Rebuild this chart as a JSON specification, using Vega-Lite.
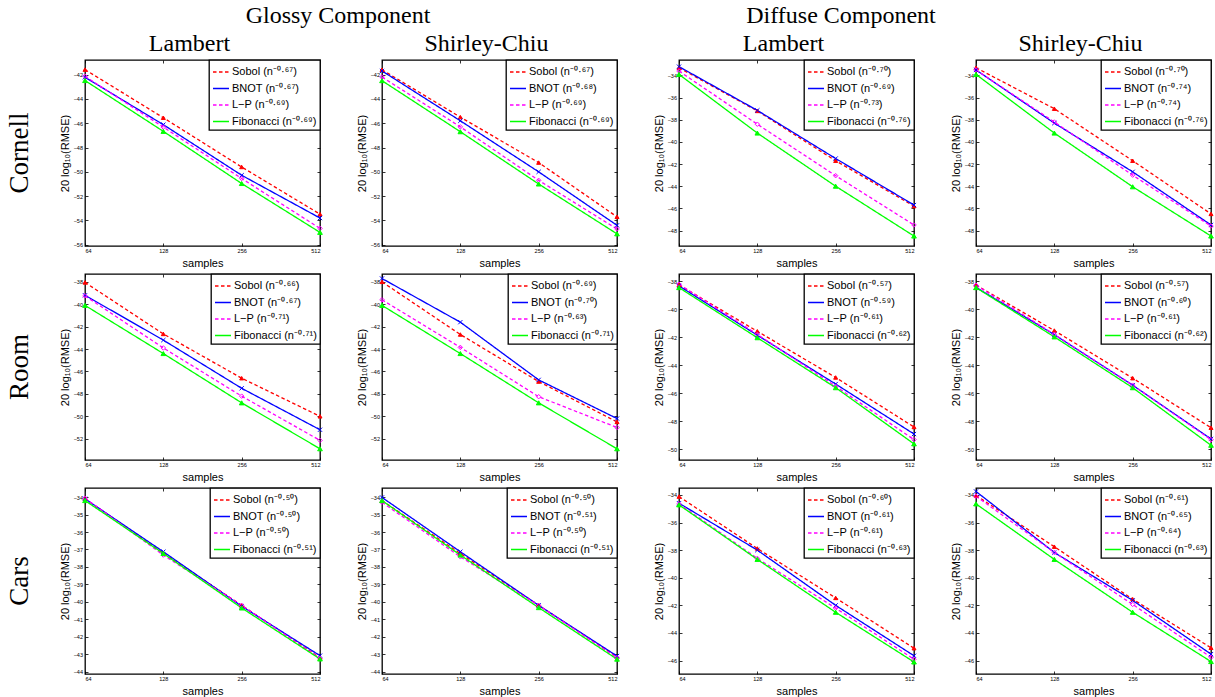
{
  "$schema": "https://vega.github.io/schema/vega-lite/v6.json",
  "background": "white",
  "padding": {"left": 5, "top": 2, "right": 0, "bottom": 0},
  "datasets": {
    "p1": [
      {"series":"Sobol","label":"Sobol (n⁻⁰·⁶⁷)","order":1,"n":64,"v":-41.59},{"series":"Sobol","label":"Sobol (n⁻⁰·⁶⁷)","order":1,"n":128,"v":-45.55},{"series":"Sobol","label":"Sobol (n⁻⁰·⁶⁷)","order":1,"n":256,"v":-49.6},{"series":"Sobol","label":"Sobol (n⁻⁰·⁶⁷)","order":1,"n":512,"v":-53.48},
      {"series":"BNOT","label":"BNOT (n⁻⁰·⁶⁷)","order":2,"n":64,"v":-42.22},{"series":"BNOT","label":"BNOT (n⁻⁰·⁶⁷)","order":2,"n":128,"v":-46.12},{"series":"BNOT","label":"BNOT (n⁻⁰·⁶⁷)","order":2,"n":256,"v":-50.28},{"series":"BNOT","label":"BNOT (n⁻⁰·⁶⁷)","order":2,"n":512,"v":-53.8},
      {"series":"L-P","label":"L−P (n⁻⁰·⁶⁹)","order":3,"n":64,"v":-42.14},{"series":"L-P","label":"L−P (n⁻⁰·⁶⁹)","order":3,"n":128,"v":-46.32},{"series":"L-P","label":"L−P (n⁻⁰·⁶⁹)","order":3,"n":256,"v":-50.55},{"series":"L-P","label":"L−P (n⁻⁰·⁶⁹)","order":3,"n":512,"v":-54.65},
      {"series":"Fibonacci","label":"Fibonacci (n⁻⁰·⁶⁹)","order":4,"n":64,"v":-42.49},{"series":"Fibonacci","label":"Fibonacci (n⁻⁰·⁶⁹)","order":4,"n":128,"v":-46.67},{"series":"Fibonacci","label":"Fibonacci (n⁻⁰·⁶⁹)","order":4,"n":256,"v":-50.96},{"series":"Fibonacci","label":"Fibonacci (n⁻⁰·⁶⁹)","order":4,"n":512,"v":-54.98}
    ],
    "p2": [
      {"series":"Sobol","label":"Sobol (n⁻⁰·⁶⁷)","order":1,"n":64,"v":-41.6},{"series":"Sobol","label":"Sobol (n⁻⁰·⁶⁷)","order":1,"n":128,"v":-45.5},{"series":"Sobol","label":"Sobol (n⁻⁰·⁶⁷)","order":1,"n":256,"v":-49.24},{"series":"Sobol","label":"Sobol (n⁻⁰·⁶⁷)","order":1,"n":512,"v":-53.7},
      {"series":"BNOT","label":"BNOT (n⁻⁰·⁶⁸)","order":2,"n":64,"v":-41.7},{"series":"BNOT","label":"BNOT (n⁻⁰·⁶⁸)","order":2,"n":128,"v":-45.8},{"series":"BNOT","label":"BNOT (n⁻⁰·⁶⁸)","order":2,"n":256,"v":-50.0},{"series":"BNOT","label":"BNOT (n⁻⁰·⁶⁸)","order":2,"n":512,"v":-54.4},
      {"series":"L-P","label":"L−P (n⁻⁰·⁶⁹)","order":3,"n":64,"v":-42.2},{"series":"L-P","label":"L−P (n⁻⁰·⁶⁹)","order":3,"n":128,"v":-46.3},{"series":"L-P","label":"L−P (n⁻⁰·⁶⁹)","order":3,"n":256,"v":-50.7},{"series":"L-P","label":"L−P (n⁻⁰·⁶⁹)","order":3,"n":512,"v":-54.7},
      {"series":"Fibonacci","label":"Fibonacci (n⁻⁰·⁶⁹)","order":4,"n":64,"v":-42.5},{"series":"Fibonacci","label":"Fibonacci (n⁻⁰·⁶⁹)","order":4,"n":128,"v":-46.7},{"series":"Fibonacci","label":"Fibonacci (n⁻⁰·⁶⁹)","order":4,"n":256,"v":-51.0},{"series":"Fibonacci","label":"Fibonacci (n⁻⁰·⁶⁹)","order":4,"n":512,"v":-55.1}
    ],
    "p3": [
      {"series":"Sobol","label":"Sobol (n⁻⁰·⁷⁰)","order":1,"n":64,"v":-33.3},{"series":"Sobol","label":"Sobol (n⁻⁰·⁷⁰)","order":1,"n":128,"v":-37.2},{"series":"Sobol","label":"Sobol (n⁻⁰·⁷⁰)","order":1,"n":256,"v":-41.7},{"series":"Sobol","label":"Sobol (n⁻⁰·⁷⁰)","order":1,"n":512,"v":-45.8},
      {"series":"BNOT","label":"BNOT (n⁻⁰·⁶⁹)","order":2,"n":64,"v":-33.2},{"series":"BNOT","label":"BNOT (n⁻⁰·⁶⁹)","order":2,"n":128,"v":-37.15},{"series":"BNOT","label":"BNOT (n⁻⁰·⁶⁹)","order":2,"n":256,"v":-41.5},{"series":"BNOT","label":"BNOT (n⁻⁰·⁶⁹)","order":2,"n":512,"v":-45.7},
      {"series":"L-P","label":"L−P (n⁻⁰·⁷³)","order":3,"n":64,"v":-33.6},{"series":"L-P","label":"L−P (n⁻⁰·⁷³)","order":3,"n":128,"v":-38.4},{"series":"L-P","label":"L−P (n⁻⁰·⁷³)","order":3,"n":256,"v":-43.05},{"series":"L-P","label":"L−P (n⁻⁰·⁷³)","order":3,"n":512,"v":-47.5},
      {"series":"Fibonacci","label":"Fibonacci (n⁻⁰·⁷⁶)","order":4,"n":64,"v":-33.9},{"series":"Fibonacci","label":"Fibonacci (n⁻⁰·⁷⁶)","order":4,"n":128,"v":-39.2},{"series":"Fibonacci","label":"Fibonacci (n⁻⁰·⁷⁶)","order":4,"n":256,"v":-44.0},{"series":"Fibonacci","label":"Fibonacci (n⁻⁰·⁷⁶)","order":4,"n":512,"v":-48.5}
    ],
    "p4": [
      {"series":"Sobol","label":"Sobol (n⁻⁰·⁷⁰)","order":1,"n":64,"v":-33.3},{"series":"Sobol","label":"Sobol (n⁻⁰·⁷⁰)","order":1,"n":128,"v":-37.0},{"series":"Sobol","label":"Sobol (n⁻⁰·⁷⁰)","order":1,"n":256,"v":-41.7},{"series":"Sobol","label":"Sobol (n⁻⁰·⁷⁰)","order":1,"n":512,"v":-46.5},
      {"series":"BNOT","label":"BNOT (n⁻⁰·⁷⁴)","order":2,"n":64,"v":-33.5},{"series":"BNOT","label":"BNOT (n⁻⁰·⁷⁴)","order":2,"n":128,"v":-38.3},{"series":"BNOT","label":"BNOT (n⁻⁰·⁷⁴)","order":2,"n":256,"v":-42.7},{"series":"BNOT","label":"BNOT (n⁻⁰·⁷⁴)","order":2,"n":512,"v":-47.5},
      {"series":"L-P","label":"L−P (n⁻⁰·⁷⁴)","order":3,"n":64,"v":-33.5},{"series":"L-P","label":"L−P (n⁻⁰·⁷⁴)","order":3,"n":128,"v":-38.2},{"series":"L-P","label":"L−P (n⁻⁰·⁷⁴)","order":3,"n":256,"v":-43.0},{"series":"L-P","label":"L−P (n⁻⁰·⁷⁴)","order":3,"n":512,"v":-47.6},
      {"series":"Fibonacci","label":"Fibonacci (n⁻⁰·⁷⁶)","order":4,"n":64,"v":-33.9},{"series":"Fibonacci","label":"Fibonacci (n⁻⁰·⁷⁶)","order":4,"n":128,"v":-39.2},{"series":"Fibonacci","label":"Fibonacci (n⁻⁰·⁷⁶)","order":4,"n":256,"v":-44.05},{"series":"Fibonacci","label":"Fibonacci (n⁻⁰·⁷⁶)","order":4,"n":512,"v":-48.5}
    ],
    "p5": [
      {"series":"Sobol","label":"Sobol (n⁻⁰·⁶⁶)","order":1,"n":64,"v":-38.05},{"series":"Sobol","label":"Sobol (n⁻⁰·⁶⁶)","order":1,"n":128,"v":-42.65},{"series":"Sobol","label":"Sobol (n⁻⁰·⁶⁶)","order":1,"n":256,"v":-46.6},{"series":"Sobol","label":"Sobol (n⁻⁰·⁶⁶)","order":1,"n":512,"v":-50.0},
      {"series":"BNOT","label":"BNOT (n⁻⁰·⁶⁷)","order":2,"n":64,"v":-39.2},{"series":"BNOT","label":"BNOT (n⁻⁰·⁶⁷)","order":2,"n":128,"v":-43.2},{"series":"BNOT","label":"BNOT (n⁻⁰·⁶⁷)","order":2,"n":256,"v":-47.5},{"series":"BNOT","label":"BNOT (n⁻⁰·⁶⁷)","order":2,"n":512,"v":-51.2},
      {"series":"L-P","label":"L−P (n⁻⁰·⁷¹)","order":3,"n":64,"v":-39.25},{"series":"L-P","label":"L−P (n⁻⁰·⁷¹)","order":3,"n":128,"v":-43.9},{"series":"L-P","label":"L−P (n⁻⁰·⁷¹)","order":3,"n":256,"v":-48.2},{"series":"L-P","label":"L−P (n⁻⁰·⁷¹)","order":3,"n":512,"v":-52.15},
      {"series":"Fibonacci","label":"Fibonacci (n⁻⁰·⁷¹)","order":4,"n":64,"v":-40.1},{"series":"Fibonacci","label":"Fibonacci (n⁻⁰·⁷¹)","order":4,"n":128,"v":-44.4},{"series":"Fibonacci","label":"Fibonacci (n⁻⁰·⁷¹)","order":4,"n":256,"v":-48.8},{"series":"Fibonacci","label":"Fibonacci (n⁻⁰·⁷¹)","order":4,"n":512,"v":-52.9}
    ],
    "p6": [
      {"series":"Sobol","label":"Sobol (n⁻⁰·⁶⁹)","order":1,"n":64,"v":-38.0},{"series":"Sobol","label":"Sobol (n⁻⁰·⁶⁹)","order":1,"n":128,"v":-42.7},{"series":"Sobol","label":"Sobol (n⁻⁰·⁶⁹)","order":1,"n":256,"v":-46.9},{"series":"Sobol","label":"Sobol (n⁻⁰·⁶⁹)","order":1,"n":512,"v":-50.5},
      {"series":"BNOT","label":"BNOT (n⁻⁰·⁷⁰)","order":2,"n":64,"v":-37.7},{"series":"BNOT","label":"BNOT (n⁻⁰·⁷⁰)","order":2,"n":128,"v":-41.6},{"series":"BNOT","label":"BNOT (n⁻⁰·⁷⁰)","order":2,"n":256,"v":-46.75},{"series":"BNOT","label":"BNOT (n⁻⁰·⁷⁰)","order":2,"n":512,"v":-50.2},
      {"series":"L-P","label":"L−P (n⁻⁰·⁶³)","order":3,"n":64,"v":-39.6},{"series":"L-P","label":"L−P (n⁻⁰·⁶³)","order":3,"n":128,"v":-43.85},{"series":"L-P","label":"L−P (n⁻⁰·⁶³)","order":3,"n":256,"v":-48.25},{"series":"L-P","label":"L−P (n⁻⁰·⁶³)","order":3,"n":512,"v":-51.0},
      {"series":"Fibonacci","label":"Fibonacci (n⁻⁰·⁷¹)","order":4,"n":64,"v":-40.1},{"series":"Fibonacci","label":"Fibonacci (n⁻⁰·⁷¹)","order":4,"n":128,"v":-44.4},{"series":"Fibonacci","label":"Fibonacci (n⁻⁰·⁷¹)","order":4,"n":256,"v":-48.8},{"series":"Fibonacci","label":"Fibonacci (n⁻⁰·⁷¹)","order":4,"n":512,"v":-52.9}
    ],
    "p7": [
      {"series":"Sobol","label":"Sobol (n⁻⁰·⁵⁷)","order":1,"n":64,"v":-38.28},{"series":"Sobol","label":"Sobol (n⁻⁰·⁵⁷)","order":1,"n":128,"v":-41.58},{"series":"Sobol","label":"Sobol (n⁻⁰·⁵⁷)","order":1,"n":256,"v":-44.87},{"series":"Sobol","label":"Sobol (n⁻⁰·⁵⁷)","order":1,"n":512,"v":-48.4},
      {"series":"BNOT","label":"BNOT (n⁻⁰·⁵⁹)","order":2,"n":64,"v":-38.35},{"series":"BNOT","label":"BNOT (n⁻⁰·⁵⁹)","order":2,"n":128,"v":-41.86},{"series":"BNOT","label":"BNOT (n⁻⁰·⁵⁹)","order":2,"n":256,"v":-45.34},{"series":"BNOT","label":"BNOT (n⁻⁰·⁵⁹)","order":2,"n":512,"v":-48.9},
      {"series":"L-P","label":"L−P (n⁻⁰·⁶¹)","order":3,"n":64,"v":-38.23},{"series":"L-P","label":"L−P (n⁻⁰·⁶¹)","order":3,"n":128,"v":-41.8},{"series":"L-P","label":"L−P (n⁻⁰·⁶¹)","order":3,"n":256,"v":-45.5},{"series":"L-P","label":"L−P (n⁻⁰·⁶¹)","order":3,"n":512,"v":-49.3},
      {"series":"Fibonacci","label":"Fibonacci (n⁻⁰·⁶²)","order":4,"n":64,"v":-38.47},{"series":"Fibonacci","label":"Fibonacci (n⁻⁰·⁶²)","order":4,"n":128,"v":-42.04},{"series":"Fibonacci","label":"Fibonacci (n⁻⁰·⁶²)","order":4,"n":256,"v":-45.6},{"series":"Fibonacci","label":"Fibonacci (n⁻⁰·⁶²)","order":4,"n":512,"v":-49.6}
    ],
    "p8": [
      {"series":"Sobol","label":"Sobol (n⁻⁰·⁵⁷)","order":1,"n":64,"v":-38.28},{"series":"Sobol","label":"Sobol (n⁻⁰·⁵⁷)","order":1,"n":128,"v":-41.53},{"series":"Sobol","label":"Sobol (n⁻⁰·⁵⁷)","order":1,"n":256,"v":-44.92},{"series":"Sobol","label":"Sobol (n⁻⁰·⁵⁷)","order":1,"n":512,"v":-48.45},
      {"series":"BNOT","label":"BNOT (n⁻⁰·⁶⁰)","order":2,"n":64,"v":-38.45},{"series":"BNOT","label":"BNOT (n⁻⁰·⁶⁰)","order":2,"n":128,"v":-41.82},{"series":"BNOT","label":"BNOT (n⁻⁰·⁶⁰)","order":2,"n":256,"v":-45.42},{"series":"BNOT","label":"BNOT (n⁻⁰·⁶⁰)","order":2,"n":512,"v":-49.25},
      {"series":"L-P","label":"L−P (n⁻⁰·⁶¹)","order":3,"n":64,"v":-38.3},{"series":"L-P","label":"L−P (n⁻⁰·⁶¹)","order":3,"n":128,"v":-41.8},{"series":"L-P","label":"L−P (n⁻⁰·⁶¹)","order":3,"n":256,"v":-45.42},{"series":"L-P","label":"L−P (n⁻⁰·⁶¹)","order":3,"n":512,"v":-49.3},
      {"series":"Fibonacci","label":"Fibonacci (n⁻⁰·⁶²)","order":4,"n":64,"v":-38.47},{"series":"Fibonacci","label":"Fibonacci (n⁻⁰·⁶²)","order":4,"n":128,"v":-41.98},{"series":"Fibonacci","label":"Fibonacci (n⁻⁰·⁶²)","order":4,"n":256,"v":-45.6},{"series":"Fibonacci","label":"Fibonacci (n⁻⁰·⁶²)","order":4,"n":512,"v":-49.7}
    ],
    "p9": [
      {"series":"Sobol","label":"Sobol (n⁻⁰·⁵⁰)","order":1,"n":64,"v":-34.1},{"series":"Sobol","label":"Sobol (n⁻⁰·⁵⁰)","order":1,"n":128,"v":-37.2},{"series":"Sobol","label":"Sobol (n⁻⁰·⁵⁰)","order":1,"n":256,"v":-40.2},{"series":"Sobol","label":"Sobol (n⁻⁰·⁵⁰)","order":1,"n":512,"v":-43.2},
      {"series":"BNOT","label":"BNOT (n⁻⁰·⁵⁰)","order":2,"n":64,"v":-34.1},{"series":"BNOT","label":"BNOT (n⁻⁰·⁵⁰)","order":2,"n":128,"v":-37.13},{"series":"BNOT","label":"BNOT (n⁻⁰·⁵⁰)","order":2,"n":256,"v":-40.25},{"series":"BNOT","label":"BNOT (n⁻⁰·⁵⁰)","order":2,"n":512,"v":-43.08},
      {"series":"L-P","label":"L−P (n⁻⁰·⁵⁰)","order":3,"n":64,"v":-34.06},{"series":"L-P","label":"L−P (n⁻⁰·⁵⁰)","order":3,"n":128,"v":-37.32},{"series":"L-P","label":"L−P (n⁻⁰·⁵⁰)","order":3,"n":256,"v":-40.2},{"series":"L-P","label":"L−P (n⁻⁰·⁵⁰)","order":3,"n":512,"v":-43.23},
      {"series":"Fibonacci","label":"Fibonacci (n⁻⁰·⁵¹)","order":4,"n":64,"v":-34.2},{"series":"Fibonacci","label":"Fibonacci (n⁻⁰·⁵¹)","order":4,"n":128,"v":-37.23},{"series":"Fibonacci","label":"Fibonacci (n⁻⁰·⁵¹)","order":4,"n":256,"v":-40.35},{"series":"Fibonacci","label":"Fibonacci (n⁻⁰·⁵¹)","order":4,"n":512,"v":-43.27}
    ],
    "p10": [
      {"series":"Sobol","label":"Sobol (n⁻⁰·⁵⁰)","order":1,"n":64,"v":-34.2},{"series":"Sobol","label":"Sobol (n⁻⁰·⁵⁰)","order":1,"n":128,"v":-37.23},{"series":"Sobol","label":"Sobol (n⁻⁰·⁵⁰)","order":1,"n":256,"v":-40.2},{"series":"Sobol","label":"Sobol (n⁻⁰·⁵⁰)","order":1,"n":512,"v":-43.15},
      {"series":"BNOT","label":"BNOT (n⁻⁰·⁵¹)","order":2,"n":64,"v":-34.02},{"series":"BNOT","label":"BNOT (n⁻⁰·⁵¹)","order":2,"n":128,"v":-37.13},{"series":"BNOT","label":"BNOT (n⁻⁰·⁵¹)","order":2,"n":256,"v":-40.2},{"series":"BNOT","label":"BNOT (n⁻⁰·⁵¹)","order":2,"n":512,"v":-43.1},
      {"series":"L-P","label":"L−P (n⁻⁰·⁵⁰)","order":3,"n":64,"v":-34.3},{"series":"L-P","label":"L−P (n⁻⁰·⁵⁰)","order":3,"n":128,"v":-37.42},{"series":"L-P","label":"L−P (n⁻⁰·⁵⁰)","order":3,"n":256,"v":-40.2},{"series":"L-P","label":"L−P (n⁻⁰·⁵⁰)","order":3,"n":512,"v":-43.2},
      {"series":"Fibonacci","label":"Fibonacci (n⁻⁰·⁵¹)","order":4,"n":64,"v":-34.2},{"series":"Fibonacci","label":"Fibonacci (n⁻⁰·⁵¹)","order":4,"n":128,"v":-37.32},{"series":"Fibonacci","label":"Fibonacci (n⁻⁰·⁵¹)","order":4,"n":256,"v":-40.33},{"series":"Fibonacci","label":"Fibonacci (n⁻⁰·⁵¹)","order":4,"n":512,"v":-43.28}
    ],
    "p11": [
      {"series":"Sobol","label":"Sobol (n⁻⁰·⁶⁰)","order":1,"n":64,"v":-34.12},{"series":"Sobol","label":"Sobol (n⁻⁰·⁶⁰)","order":1,"n":128,"v":-37.88},{"series":"Sobol","label":"Sobol (n⁻⁰·⁶⁰)","order":1,"n":256,"v":-41.46},{"series":"Sobol","label":"Sobol (n⁻⁰·⁶⁰)","order":1,"n":512,"v":-45.1},
      {"series":"BNOT","label":"BNOT (n⁻⁰·⁶¹)","order":2,"n":64,"v":-34.6},{"series":"BNOT","label":"BNOT (n⁻⁰·⁶¹)","order":2,"n":128,"v":-38.0},{"series":"BNOT","label":"BNOT (n⁻⁰·⁶¹)","order":2,"n":256,"v":-42.0},{"series":"BNOT","label":"BNOT (n⁻⁰·⁶¹)","order":2,"n":512,"v":-45.65},
      {"series":"L-P","label":"L−P (n⁻⁰·⁶¹)","order":3,"n":64,"v":-34.65},{"series":"L-P","label":"L−P (n⁻⁰·⁶¹)","order":3,"n":128,"v":-38.6},{"series":"L-P","label":"L−P (n⁻⁰·⁶¹)","order":3,"n":256,"v":-42.2},{"series":"L-P","label":"L−P (n⁻⁰·⁶¹)","order":3,"n":512,"v":-45.9},
      {"series":"Fibonacci","label":"Fibonacci (n⁻⁰·⁶³)","order":4,"n":64,"v":-34.72},{"series":"Fibonacci","label":"Fibonacci (n⁻⁰·⁶³)","order":4,"n":128,"v":-38.67},{"series":"Fibonacci","label":"Fibonacci (n⁻⁰·⁶³)","order":4,"n":256,"v":-42.5},{"series":"Fibonacci","label":"Fibonacci (n⁻⁰·⁶³)","order":4,"n":512,"v":-46.1}
    ],
    "p12": [
      {"series":"Sobol","label":"Sobol (n⁻⁰·⁶¹)","order":1,"n":64,"v":-34.04},{"series":"Sobol","label":"Sobol (n⁻⁰·⁶¹)","order":1,"n":128,"v":-37.75},{"series":"Sobol","label":"Sobol (n⁻⁰·⁶¹)","order":1,"n":256,"v":-41.55},{"series":"Sobol","label":"Sobol (n⁻⁰·⁶¹)","order":1,"n":512,"v":-45.07},
      {"series":"BNOT","label":"BNOT (n⁻⁰·⁶⁵)","order":2,"n":64,"v":-33.75},{"series":"BNOT","label":"BNOT (n⁻⁰·⁶⁵)","order":2,"n":128,"v":-38.17},{"series":"BNOT","label":"BNOT (n⁻⁰·⁶⁵)","order":2,"n":256,"v":-41.64},{"series":"BNOT","label":"BNOT (n⁻⁰·⁶⁵)","order":2,"n":512,"v":-45.53},
      {"series":"L-P","label":"L−P (n⁻⁰·⁶⁴)","order":3,"n":64,"v":-34.1},{"series":"L-P","label":"L−P (n⁻⁰·⁶⁴)","order":3,"n":128,"v":-38.17},{"series":"L-P","label":"L−P (n⁻⁰·⁶⁴)","order":3,"n":256,"v":-41.93},{"series":"L-P","label":"L−P (n⁻⁰·⁶⁴)","order":3,"n":512,"v":-45.76},
      {"series":"Fibonacci","label":"Fibonacci (n⁻⁰·⁶³)","order":4,"n":64,"v":-34.65},{"series":"Fibonacci","label":"Fibonacci (n⁻⁰·⁶³)","order":4,"n":128,"v":-38.67},{"series":"Fibonacci","label":"Fibonacci (n⁻⁰·⁶³)","order":4,"n":256,"v":-42.5},{"series":"Fibonacci","label":"Fibonacci (n⁻⁰·⁶³)","order":4,"n":512,"v":-46.07}
    ]
  },
  "columns": 4,
  "bounds": "flush",
  "spacing": {"row": 28, "column": 62},
  "resolve": {"scale": {"color": "independent", "strokeDash": "independent"}},
  "concat": [
    {"width": 235, "height": 186, "data": {"name": "p1"},
     "title": {"text": "Cornell", "orient": "left", "anchor": "middle", "fontSize": 27, "offset": 25},
     "layer": [
      {"mark": {"type": "line", "strokeWidth": 1.3},
       "encoding": {
        "x": {"field": "n", "type": "quantitative", "scale": {"type": "log", "base": 2, "domain": [64, 512], "nice": false}, "axis": {"orient": "bottom", "values": [64, 128, 256, 512], "title": "samples"}},
        "y": {"field": "v", "type": "quantitative", "scale": {"domain": [-56.1, -40.8], "nice": false, "zero": false}, "axis": {"orient": "left", "values": [-56, -54, -52, -50, -48, -46, -44, -42], "title": "20 log₁₀(RMSE)"}},
        "color": {"field": "label", "type": "nominal", "sort": {"field": "order", "op": "min"}, "scale": {"range": ["#ff0000", "#0000ff", "#ff00ff", "#00ff00"]}, "legend": {"title": null}},
        "strokeDash": {"field": "label", "type": "nominal", "sort": {"field": "order", "op": "min"}, "scale": {"range": [[3.5, 2.5], [1, 0], [3.5, 2.5], [1, 0]]}, "legend": {"title": null}}}},
      {"mark": {"type": "point", "strokeWidth": 1, "opacity": 1},
       "encoding": {
        "x": {"field": "n", "type": "quantitative", "axis": {"orient": "top", "values": [64, 128, 256, 512], "labels": false, "title": "Lambert", "titleFont": "Liberation Serif", "titleFontSize": 24, "titlePadding": 4, "titleX": 104}},
        "y": {"field": "v", "type": "quantitative", "axis": {"orient": "right", "values": [-56, -54, -52, -50, -48, -46, -44, -42], "labels": false, "title": null}},
        "shape": {"field": "series", "type": "nominal", "sort": {"field": "order", "op": "min"}, "scale": {"range": ["triangle-up", "M-1,-1L1,1M-1,1L1,-1", "diamond", "triangle-up"]}, "legend": null},
        "stroke": {"field": "series", "type": "nominal", "sort": {"field": "order", "op": "min"}, "scale": {"range": ["#ff0000", "#0000ff", "#ff00ff", "#00ff00"]}, "legend": null},
        "fill": {"field": "series", "type": "nominal", "sort": {"field": "order", "op": "min"}, "scale": {"range": ["#ff0000", "transparent", "transparent", "#00ff00"]}, "legend": null},
        "size": {"field": "series", "type": "nominal", "sort": {"field": "order", "op": "min"}, "scale": {"range": [16, 22, 32, 16]}, "legend": null}}}
     ],
     "resolve": {"axis": {"x": "independent", "y": "independent"}}},
    {"width": 235, "height": 186, "data": {"name": "p2"},
     "title": {"text": "Glossy Component", "anchor": "start", "frame": "group", "align": "center", "dx": -44, "offset": 4},
     "layer": [
      {"mark": {"type": "line", "strokeWidth": 1.3},
       "encoding": {
        "x": {"field": "n", "type": "quantitative", "scale": {"type": "log", "base": 2, "domain": [64, 512], "nice": false}, "axis": {"orient": "bottom", "values": [64, 128, 256, 512], "title": "samples"}},
        "y": {"field": "v", "type": "quantitative", "scale": {"domain": [-56.1, -40.8], "nice": false, "zero": false}, "axis": {"orient": "left", "values": [-56, -54, -52, -50, -48, -46, -44, -42], "title": "20 log₁₀(RMSE)"}},
        "color": {"field": "label", "type": "nominal", "sort": {"field": "order", "op": "min"}, "scale": {"range": ["#ff0000", "#0000ff", "#ff00ff", "#00ff00"]}, "legend": {"title": null}},
        "strokeDash": {"field": "label", "type": "nominal", "sort": {"field": "order", "op": "min"}, "scale": {"range": [[3.5, 2.5], [1, 0], [3.5, 2.5], [1, 0]]}, "legend": {"title": null}}}},
      {"mark": {"type": "point", "strokeWidth": 1, "opacity": 1},
       "encoding": {
        "x": {"field": "n", "type": "quantitative", "axis": {"orient": "top", "values": [64, 128, 256, 512], "labels": false, "title": "Shirley-Chiu", "titleFont": "Liberation Serif", "titleFontSize": 24, "titlePadding": 4, "titleX": 104}},
        "y": {"field": "v", "type": "quantitative", "axis": {"orient": "right", "values": [-56, -54, -52, -50, -48, -46, -44, -42], "labels": false, "title": null}},
        "shape": {"field": "series", "type": "nominal", "sort": {"field": "order", "op": "min"}, "scale": {"range": ["triangle-up", "M-1,-1L1,1M-1,1L1,-1", "diamond", "triangle-up"]}, "legend": null},
        "stroke": {"field": "series", "type": "nominal", "sort": {"field": "order", "op": "min"}, "scale": {"range": ["#ff0000", "#0000ff", "#ff00ff", "#00ff00"]}, "legend": null},
        "fill": {"field": "series", "type": "nominal", "sort": {"field": "order", "op": "min"}, "scale": {"range": ["#ff0000", "transparent", "transparent", "#00ff00"]}, "legend": null},
        "size": {"field": "series", "type": "nominal", "sort": {"field": "order", "op": "min"}, "scale": {"range": [16, 22, 32, 16]}, "legend": null}}}
     ],
     "resolve": {"axis": {"x": "independent", "y": "independent"}}},
    {"width": 235, "height": 186, "data": {"name": "p3"},
     "title": {"text": "Diffuse Component", "anchor": "start", "frame": "group", "align": "center", "dx": 162, "offset": 4},
     "layer": [
      {"mark": {"type": "line", "strokeWidth": 1.3},
       "encoding": {
        "x": {"field": "n", "type": "quantitative", "scale": {"type": "log", "base": 2, "domain": [64, 512], "nice": false}, "axis": {"orient": "bottom", "values": [64, 128, 256, 512], "title": "samples"}},
        "y": {"field": "v", "type": "quantitative", "scale": {"domain": [-49.4, -32.6], "nice": false, "zero": false}, "axis": {"orient": "left", "values": [-48, -46, -44, -42, -40, -38, -36, -34], "title": "20 log₁₀(RMSE)"}},
        "color": {"field": "label", "type": "nominal", "sort": {"field": "order", "op": "min"}, "scale": {"range": ["#ff0000", "#0000ff", "#ff00ff", "#00ff00"]}, "legend": {"title": null}},
        "strokeDash": {"field": "label", "type": "nominal", "sort": {"field": "order", "op": "min"}, "scale": {"range": [[3.5, 2.5], [1, 0], [3.5, 2.5], [1, 0]]}, "legend": {"title": null}}}},
      {"mark": {"type": "point", "strokeWidth": 1, "opacity": 1},
       "encoding": {
        "x": {"field": "n", "type": "quantitative", "axis": {"orient": "top", "values": [64, 128, 256, 512], "labels": false, "title": "Lambert", "titleFont": "Liberation Serif", "titleFontSize": 24, "titlePadding": 4, "titleX": 104}},
        "y": {"field": "v", "type": "quantitative", "axis": {"orient": "right", "values": [-48, -46, -44, -42, -40, -38, -36, -34], "labels": false, "title": null}},
        "shape": {"field": "series", "type": "nominal", "sort": {"field": "order", "op": "min"}, "scale": {"range": ["triangle-up", "M-1,-1L1,1M-1,1L1,-1", "diamond", "triangle-up"]}, "legend": null},
        "stroke": {"field": "series", "type": "nominal", "sort": {"field": "order", "op": "min"}, "scale": {"range": ["#ff0000", "#0000ff", "#ff00ff", "#00ff00"]}, "legend": null},
        "fill": {"field": "series", "type": "nominal", "sort": {"field": "order", "op": "min"}, "scale": {"range": ["#ff0000", "transparent", "transparent", "#00ff00"]}, "legend": null},
        "size": {"field": "series", "type": "nominal", "sort": {"field": "order", "op": "min"}, "scale": {"range": [16, 22, 32, 16]}, "legend": null}}}
     ],
     "resolve": {"axis": {"x": "independent", "y": "independent"}}},
    {"width": 235, "height": 186, "data": {"name": "p4"},
     "layer": [
      {"mark": {"type": "line", "strokeWidth": 1.3},
       "encoding": {
        "x": {"field": "n", "type": "quantitative", "scale": {"type": "log", "base": 2, "domain": [64, 512], "nice": false}, "axis": {"orient": "bottom", "values": [64, 128, 256, 512], "title": "samples"}},
        "y": {"field": "v", "type": "quantitative", "scale": {"domain": [-49.4, -32.6], "nice": false, "zero": false}, "axis": {"orient": "left", "values": [-48, -46, -44, -42, -40, -38, -36, -34], "title": "20 log₁₀(RMSE)"}},
        "color": {"field": "label", "type": "nominal", "sort": {"field": "order", "op": "min"}, "scale": {"range": ["#ff0000", "#0000ff", "#ff00ff", "#00ff00"]}, "legend": {"title": null}},
        "strokeDash": {"field": "label", "type": "nominal", "sort": {"field": "order", "op": "min"}, "scale": {"range": [[3.5, 2.5], [1, 0], [3.5, 2.5], [1, 0]]}, "legend": {"title": null}}}},
      {"mark": {"type": "point", "strokeWidth": 1, "opacity": 1},
       "encoding": {
        "x": {"field": "n", "type": "quantitative", "axis": {"orient": "top", "values": [64, 128, 256, 512], "labels": false, "title": "Shirley-Chiu", "titleFont": "Liberation Serif", "titleFontSize": 24, "titlePadding": 4, "titleX": 104}},
        "y": {"field": "v", "type": "quantitative", "axis": {"orient": "right", "values": [-48, -46, -44, -42, -40, -38, -36, -34], "labels": false, "title": null}},
        "shape": {"field": "series", "type": "nominal", "sort": {"field": "order", "op": "min"}, "scale": {"range": ["triangle-up", "M-1,-1L1,1M-1,1L1,-1", "diamond", "triangle-up"]}, "legend": null},
        "stroke": {"field": "series", "type": "nominal", "sort": {"field": "order", "op": "min"}, "scale": {"range": ["#ff0000", "#0000ff", "#ff00ff", "#00ff00"]}, "legend": null},
        "fill": {"field": "series", "type": "nominal", "sort": {"field": "order", "op": "min"}, "scale": {"range": ["#ff0000", "transparent", "transparent", "#00ff00"]}, "legend": null},
        "size": {"field": "series", "type": "nominal", "sort": {"field": "order", "op": "min"}, "scale": {"range": [16, 22, 32, 16]}, "legend": null}}}
     ],
     "resolve": {"axis": {"x": "independent", "y": "independent"}}},
    {"width": 235, "height": 186, "data": {"name": "p5"},
     "title": {"text": "Room", "orient": "left", "anchor": "middle", "fontSize": 27, "offset": 25},
     "layer": [
      {"mark": {"type": "line", "strokeWidth": 1.3},
       "encoding": {
        "x": {"field": "n", "type": "quantitative", "scale": {"type": "log", "base": 2, "domain": [64, 512], "nice": false}, "axis": {"orient": "bottom", "values": [64, 128, 256, 512], "title": "samples"}},
        "y": {"field": "v", "type": "quantitative", "scale": {"domain": [-53.9, -37.3], "nice": false, "zero": false}, "axis": {"orient": "left", "values": [-52, -50, -48, -46, -44, -42, -40, -38], "title": "20 log₁₀(RMSE)"}},
        "color": {"field": "label", "type": "nominal", "sort": {"field": "order", "op": "min"}, "scale": {"range": ["#ff0000", "#0000ff", "#ff00ff", "#00ff00"]}, "legend": {"title": null}},
        "strokeDash": {"field": "label", "type": "nominal", "sort": {"field": "order", "op": "min"}, "scale": {"range": [[3.5, 2.5], [1, 0], [3.5, 2.5], [1, 0]]}, "legend": {"title": null}}}},
      {"mark": {"type": "point", "strokeWidth": 1, "opacity": 1},
       "encoding": {
        "x": {"field": "n", "type": "quantitative", "axis": {"orient": "top", "values": [64, 128, 256, 512], "labels": false, "title": null}},
        "y": {"field": "v", "type": "quantitative", "axis": {"orient": "right", "values": [-52, -50, -48, -46, -44, -42, -40, -38], "labels": false, "title": null}},
        "shape": {"field": "series", "type": "nominal", "sort": {"field": "order", "op": "min"}, "scale": {"range": ["triangle-up", "M-1,-1L1,1M-1,1L1,-1", "diamond", "triangle-up"]}, "legend": null},
        "stroke": {"field": "series", "type": "nominal", "sort": {"field": "order", "op": "min"}, "scale": {"range": ["#ff0000", "#0000ff", "#ff00ff", "#00ff00"]}, "legend": null},
        "fill": {"field": "series", "type": "nominal", "sort": {"field": "order", "op": "min"}, "scale": {"range": ["#ff0000", "transparent", "transparent", "#00ff00"]}, "legend": null},
        "size": {"field": "series", "type": "nominal", "sort": {"field": "order", "op": "min"}, "scale": {"range": [16, 22, 32, 16]}, "legend": null}}}
     ],
     "resolve": {"axis": {"x": "independent", "y": "independent"}}},
    {"width": 235, "height": 186, "data": {"name": "p6"},
     "layer": [
      {"mark": {"type": "line", "strokeWidth": 1.3},
       "encoding": {
        "x": {"field": "n", "type": "quantitative", "scale": {"type": "log", "base": 2, "domain": [64, 512], "nice": false}, "axis": {"orient": "bottom", "values": [64, 128, 256, 512], "title": "samples"}},
        "y": {"field": "v", "type": "quantitative", "scale": {"domain": [-53.9, -37.3], "nice": false, "zero": false}, "axis": {"orient": "left", "values": [-52, -50, -48, -46, -44, -42, -40, -38], "title": "20 log₁₀(RMSE)"}},
        "color": {"field": "label", "type": "nominal", "sort": {"field": "order", "op": "min"}, "scale": {"range": ["#ff0000", "#0000ff", "#ff00ff", "#00ff00"]}, "legend": {"title": null}},
        "strokeDash": {"field": "label", "type": "nominal", "sort": {"field": "order", "op": "min"}, "scale": {"range": [[3.5, 2.5], [1, 0], [3.5, 2.5], [1, 0]]}, "legend": {"title": null}}}},
      {"mark": {"type": "point", "strokeWidth": 1, "opacity": 1},
       "encoding": {
        "x": {"field": "n", "type": "quantitative", "axis": {"orient": "top", "values": [64, 128, 256, 512], "labels": false, "title": null}},
        "y": {"field": "v", "type": "quantitative", "axis": {"orient": "right", "values": [-52, -50, -48, -46, -44, -42, -40, -38], "labels": false, "title": null}},
        "shape": {"field": "series", "type": "nominal", "sort": {"field": "order", "op": "min"}, "scale": {"range": ["triangle-up", "M-1,-1L1,1M-1,1L1,-1", "diamond", "triangle-up"]}, "legend": null},
        "stroke": {"field": "series", "type": "nominal", "sort": {"field": "order", "op": "min"}, "scale": {"range": ["#ff0000", "#0000ff", "#ff00ff", "#00ff00"]}, "legend": null},
        "fill": {"field": "series", "type": "nominal", "sort": {"field": "order", "op": "min"}, "scale": {"range": ["#ff0000", "transparent", "transparent", "#00ff00"]}, "legend": null},
        "size": {"field": "series", "type": "nominal", "sort": {"field": "order", "op": "min"}, "scale": {"range": [16, 22, 32, 16]}, "legend": null}}}
     ],
     "resolve": {"axis": {"x": "independent", "y": "independent"}}},
    {"width": 235, "height": 186, "data": {"name": "p7"},
     "layer": [
      {"mark": {"type": "line", "strokeWidth": 1.3},
       "encoding": {
        "x": {"field": "n", "type": "quantitative", "scale": {"type": "log", "base": 2, "domain": [64, 512], "nice": false}, "axis": {"orient": "bottom", "values": [64, 128, 256, 512], "title": "samples"}},
        "y": {"field": "v", "type": "quantitative", "scale": {"domain": [-50.75, -37.5], "nice": false, "zero": false}, "axis": {"orient": "left", "values": [-50, -48, -46, -44, -42, -40, -38], "title": "20 log₁₀(RMSE)"}},
        "color": {"field": "label", "type": "nominal", "sort": {"field": "order", "op": "min"}, "scale": {"range": ["#ff0000", "#0000ff", "#ff00ff", "#00ff00"]}, "legend": {"title": null}},
        "strokeDash": {"field": "label", "type": "nominal", "sort": {"field": "order", "op": "min"}, "scale": {"range": [[3.5, 2.5], [1, 0], [3.5, 2.5], [1, 0]]}, "legend": {"title": null}}}},
      {"mark": {"type": "point", "strokeWidth": 1, "opacity": 1},
       "encoding": {
        "x": {"field": "n", "type": "quantitative", "axis": {"orient": "top", "values": [64, 128, 256, 512], "labels": false, "title": null}},
        "y": {"field": "v", "type": "quantitative", "axis": {"orient": "right", "values": [-50, -48, -46, -44, -42, -40, -38], "labels": false, "title": null}},
        "shape": {"field": "series", "type": "nominal", "sort": {"field": "order", "op": "min"}, "scale": {"range": ["triangle-up", "M-1,-1L1,1M-1,1L1,-1", "diamond", "triangle-up"]}, "legend": null},
        "stroke": {"field": "series", "type": "nominal", "sort": {"field": "order", "op": "min"}, "scale": {"range": ["#ff0000", "#0000ff", "#ff00ff", "#00ff00"]}, "legend": null},
        "fill": {"field": "series", "type": "nominal", "sort": {"field": "order", "op": "min"}, "scale": {"range": ["#ff0000", "transparent", "transparent", "#00ff00"]}, "legend": null},
        "size": {"field": "series", "type": "nominal", "sort": {"field": "order", "op": "min"}, "scale": {"range": [16, 22, 32, 16]}, "legend": null}}}
     ],
     "resolve": {"axis": {"x": "independent", "y": "independent"}}},
    {"width": 235, "height": 186, "data": {"name": "p8"},
     "layer": [
      {"mark": {"type": "line", "strokeWidth": 1.3},
       "encoding": {
        "x": {"field": "n", "type": "quantitative", "scale": {"type": "log", "base": 2, "domain": [64, 512], "nice": false}, "axis": {"orient": "bottom", "values": [64, 128, 256, 512], "title": "samples"}},
        "y": {"field": "v", "type": "quantitative", "scale": {"domain": [-50.75, -37.5], "nice": false, "zero": false}, "axis": {"orient": "left", "values": [-50, -48, -46, -44, -42, -40, -38], "title": "20 log₁₀(RMSE)"}},
        "color": {"field": "label", "type": "nominal", "sort": {"field": "order", "op": "min"}, "scale": {"range": ["#ff0000", "#0000ff", "#ff00ff", "#00ff00"]}, "legend": {"title": null}},
        "strokeDash": {"field": "label", "type": "nominal", "sort": {"field": "order", "op": "min"}, "scale": {"range": [[3.5, 2.5], [1, 0], [3.5, 2.5], [1, 0]]}, "legend": {"title": null}}}},
      {"mark": {"type": "point", "strokeWidth": 1, "opacity": 1},
       "encoding": {
        "x": {"field": "n", "type": "quantitative", "axis": {"orient": "top", "values": [64, 128, 256, 512], "labels": false, "title": null}},
        "y": {"field": "v", "type": "quantitative", "axis": {"orient": "right", "values": [-50, -48, -46, -44, -42, -40, -38], "labels": false, "title": null}},
        "shape": {"field": "series", "type": "nominal", "sort": {"field": "order", "op": "min"}, "scale": {"range": ["triangle-up", "M-1,-1L1,1M-1,1L1,-1", "diamond", "triangle-up"]}, "legend": null},
        "stroke": {"field": "series", "type": "nominal", "sort": {"field": "order", "op": "min"}, "scale": {"range": ["#ff0000", "#0000ff", "#ff00ff", "#00ff00"]}, "legend": null},
        "fill": {"field": "series", "type": "nominal", "sort": {"field": "order", "op": "min"}, "scale": {"range": ["#ff0000", "transparent", "transparent", "#00ff00"]}, "legend": null},
        "size": {"field": "series", "type": "nominal", "sort": {"field": "order", "op": "min"}, "scale": {"range": [16, 22, 32, 16]}, "legend": null}}}
     ],
     "resolve": {"axis": {"x": "independent", "y": "independent"}}},
    {"width": 235, "height": 186, "data": {"name": "p9"},
     "title": {"text": "Cars", "orient": "left", "anchor": "middle", "fontSize": 27, "offset": 25},
     "layer": [
      {"mark": {"type": "line", "strokeWidth": 1.3},
       "encoding": {
        "x": {"field": "n", "type": "quantitative", "scale": {"type": "log", "base": 2, "domain": [64, 512], "nice": false}, "axis": {"orient": "bottom", "values": [64, 128, 256, 512], "title": "samples"}},
        "y": {"field": "v", "type": "quantitative", "scale": {"domain": [-44.13, -33.48], "nice": false, "zero": false}, "axis": {"orient": "left", "values": [-44, -43, -42, -41, -40, -39, -38, -37, -36, -35, -34], "title": "20 log₁₀(RMSE)"}},
        "color": {"field": "label", "type": "nominal", "sort": {"field": "order", "op": "min"}, "scale": {"range": ["#ff0000", "#0000ff", "#ff00ff", "#00ff00"]}, "legend": {"title": null}},
        "strokeDash": {"field": "label", "type": "nominal", "sort": {"field": "order", "op": "min"}, "scale": {"range": [[3.5, 2.5], [1, 0], [3.5, 2.5], [1, 0]]}, "legend": {"title": null}}}},
      {"mark": {"type": "point", "strokeWidth": 1, "opacity": 1},
       "encoding": {
        "x": {"field": "n", "type": "quantitative", "axis": {"orient": "top", "values": [64, 128, 256, 512], "labels": false, "title": null}},
        "y": {"field": "v", "type": "quantitative", "axis": {"orient": "right", "values": [-44, -43, -42, -41, -40, -39, -38, -37, -36, -35, -34], "labels": false, "title": null}},
        "shape": {"field": "series", "type": "nominal", "sort": {"field": "order", "op": "min"}, "scale": {"range": ["triangle-up", "M-1,-1L1,1M-1,1L1,-1", "diamond", "triangle-up"]}, "legend": null},
        "stroke": {"field": "series", "type": "nominal", "sort": {"field": "order", "op": "min"}, "scale": {"range": ["#ff0000", "#0000ff", "#ff00ff", "#00ff00"]}, "legend": null},
        "fill": {"field": "series", "type": "nominal", "sort": {"field": "order", "op": "min"}, "scale": {"range": ["#ff0000", "transparent", "transparent", "#00ff00"]}, "legend": null},
        "size": {"field": "series", "type": "nominal", "sort": {"field": "order", "op": "min"}, "scale": {"range": [16, 22, 32, 16]}, "legend": null}}}
     ],
     "resolve": {"axis": {"x": "independent", "y": "independent"}}},
    {"width": 235, "height": 186, "data": {"name": "p10"},
     "layer": [
      {"mark": {"type": "line", "strokeWidth": 1.3},
       "encoding": {
        "x": {"field": "n", "type": "quantitative", "scale": {"type": "log", "base": 2, "domain": [64, 512], "nice": false}, "axis": {"orient": "bottom", "values": [64, 128, 256, 512], "title": "samples"}},
        "y": {"field": "v", "type": "quantitative", "scale": {"domain": [-44.13, -33.48], "nice": false, "zero": false}, "axis": {"orient": "left", "values": [-44, -43, -42, -41, -40, -39, -38, -37, -36, -35, -34], "title": "20 log₁₀(RMSE)"}},
        "color": {"field": "label", "type": "nominal", "sort": {"field": "order", "op": "min"}, "scale": {"range": ["#ff0000", "#0000ff", "#ff00ff", "#00ff00"]}, "legend": {"title": null}},
        "strokeDash": {"field": "label", "type": "nominal", "sort": {"field": "order", "op": "min"}, "scale": {"range": [[3.5, 2.5], [1, 0], [3.5, 2.5], [1, 0]]}, "legend": {"title": null}}}},
      {"mark": {"type": "point", "strokeWidth": 1, "opacity": 1},
       "encoding": {
        "x": {"field": "n", "type": "quantitative", "axis": {"orient": "top", "values": [64, 128, 256, 512], "labels": false, "title": null}},
        "y": {"field": "v", "type": "quantitative", "axis": {"orient": "right", "values": [-44, -43, -42, -41, -40, -39, -38, -37, -36, -35, -34], "labels": false, "title": null}},
        "shape": {"field": "series", "type": "nominal", "sort": {"field": "order", "op": "min"}, "scale": {"range": ["triangle-up", "M-1,-1L1,1M-1,1L1,-1", "diamond", "triangle-up"]}, "legend": null},
        "stroke": {"field": "series", "type": "nominal", "sort": {"field": "order", "op": "min"}, "scale": {"range": ["#ff0000", "#0000ff", "#ff00ff", "#00ff00"]}, "legend": null},
        "fill": {"field": "series", "type": "nominal", "sort": {"field": "order", "op": "min"}, "scale": {"range": ["#ff0000", "transparent", "transparent", "#00ff00"]}, "legend": null},
        "size": {"field": "series", "type": "nominal", "sort": {"field": "order", "op": "min"}, "scale": {"range": [16, 22, 32, 16]}, "legend": null}}}
     ],
     "resolve": {"axis": {"x": "independent", "y": "independent"}}},
    {"width": 235, "height": 186, "data": {"name": "p11"},
     "layer": [
      {"mark": {"type": "line", "strokeWidth": 1.3},
       "encoding": {
        "x": {"field": "n", "type": "quantitative", "scale": {"type": "log", "base": 2, "domain": [64, 512], "nice": false}, "axis": {"orient": "bottom", "values": [64, 128, 256, 512], "title": "samples"}},
        "y": {"field": "v", "type": "quantitative", "scale": {"domain": [-46.97, -33.5], "nice": false, "zero": false}, "axis": {"orient": "left", "values": [-46, -44, -42, -40, -38, -36, -34], "title": "20 log₁₀(RMSE)"}},
        "color": {"field": "label", "type": "nominal", "sort": {"field": "order", "op": "min"}, "scale": {"range": ["#ff0000", "#0000ff", "#ff00ff", "#00ff00"]}, "legend": {"title": null}},
        "strokeDash": {"field": "label", "type": "nominal", "sort": {"field": "order", "op": "min"}, "scale": {"range": [[3.5, 2.5], [1, 0], [3.5, 2.5], [1, 0]]}, "legend": {"title": null}}}},
      {"mark": {"type": "point", "strokeWidth": 1, "opacity": 1},
       "encoding": {
        "x": {"field": "n", "type": "quantitative", "axis": {"orient": "top", "values": [64, 128, 256, 512], "labels": false, "title": null}},
        "y": {"field": "v", "type": "quantitative", "axis": {"orient": "right", "values": [-46, -44, -42, -40, -38, -36, -34], "labels": false, "title": null}},
        "shape": {"field": "series", "type": "nominal", "sort": {"field": "order", "op": "min"}, "scale": {"range": ["triangle-up", "M-1,-1L1,1M-1,1L1,-1", "diamond", "triangle-up"]}, "legend": null},
        "stroke": {"field": "series", "type": "nominal", "sort": {"field": "order", "op": "min"}, "scale": {"range": ["#ff0000", "#0000ff", "#ff00ff", "#00ff00"]}, "legend": null},
        "fill": {"field": "series", "type": "nominal", "sort": {"field": "order", "op": "min"}, "scale": {"range": ["#ff0000", "transparent", "transparent", "#00ff00"]}, "legend": null},
        "size": {"field": "series", "type": "nominal", "sort": {"field": "order", "op": "min"}, "scale": {"range": [16, 22, 32, 16]}, "legend": null}}}
     ],
     "resolve": {"axis": {"x": "independent", "y": "independent"}}},
    {"width": 235, "height": 186, "data": {"name": "p12"},
     "layer": [
      {"mark": {"type": "line", "strokeWidth": 1.3},
       "encoding": {
        "x": {"field": "n", "type": "quantitative", "scale": {"type": "log", "base": 2, "domain": [64, 512], "nice": false}, "axis": {"orient": "bottom", "values": [64, 128, 256, 512], "title": "samples"}},
        "y": {"field": "v", "type": "quantitative", "scale": {"domain": [-46.97, -33.5], "nice": false, "zero": false}, "axis": {"orient": "left", "values": [-46, -44, -42, -40, -38, -36, -34], "title": "20 log₁₀(RMSE)"}},
        "color": {"field": "label", "type": "nominal", "sort": {"field": "order", "op": "min"}, "scale": {"range": ["#ff0000", "#0000ff", "#ff00ff", "#00ff00"]}, "legend": {"title": null}},
        "strokeDash": {"field": "label", "type": "nominal", "sort": {"field": "order", "op": "min"}, "scale": {"range": [[3.5, 2.5], [1, 0], [3.5, 2.5], [1, 0]]}, "legend": {"title": null}}}},
      {"mark": {"type": "point", "strokeWidth": 1, "opacity": 1},
       "encoding": {
        "x": {"field": "n", "type": "quantitative", "axis": {"orient": "top", "values": [64, 128, 256, 512], "labels": false, "title": null}},
        "y": {"field": "v", "type": "quantitative", "axis": {"orient": "right", "values": [-46, -44, -42, -40, -38, -36, -34], "labels": false, "title": null}},
        "shape": {"field": "series", "type": "nominal", "sort": {"field": "order", "op": "min"}, "scale": {"range": ["triangle-up", "M-1,-1L1,1M-1,1L1,-1", "diamond", "triangle-up"]}, "legend": null},
        "stroke": {"field": "series", "type": "nominal", "sort": {"field": "order", "op": "min"}, "scale": {"range": ["#ff0000", "#0000ff", "#ff00ff", "#00ff00"]}, "legend": null},
        "fill": {"field": "series", "type": "nominal", "sort": {"field": "order", "op": "min"}, "scale": {"range": ["#ff0000", "transparent", "transparent", "#00ff00"]}, "legend": null},
        "size": {"field": "series", "type": "nominal", "sort": {"field": "order", "op": "min"}, "scale": {"range": [16, 22, 32, 16]}, "legend": null}}}
     ],
     "resolve": {"axis": {"x": "independent", "y": "independent"}}}
  ],
  "config": {
    "font": "Liberation Sans",
    "view": {"stroke": "#000000", "strokeWidth": 1.3},
    "axis": {"grid": false, "domain": false, "tickColor": "#000000", "tickSize": -3, "tickWidth": 0.8, "labelFont": "Liberation Sans", "labelFontSize": 5.5, "labelColor": "#000000", "labelPadding": 5.5, "titleFont": "Liberation Sans", "titleFontSize": 11, "titleFontWeight": "normal", "titleColor": "#000000", "titlePadding": 3},
    "legend": {"orient": "top-right", "offset": 0, "padding": 3, "strokeColor": "#000000", "fillColor": "#ffffff", "strokeWidth": 1.3, "symbolType": "stroke", "symbolSize": 256, "symbolStrokeWidth": 1.3, "labelFont": "Liberation Sans", "labelFontSize": 11, "labelColor": "#000000", "rowPadding": 2.5, "labelOffset": 2},
    "title": {"font": "Liberation Serif", "fontSize": 24, "fontWeight": "normal", "color": "#000000"}
  }
}
